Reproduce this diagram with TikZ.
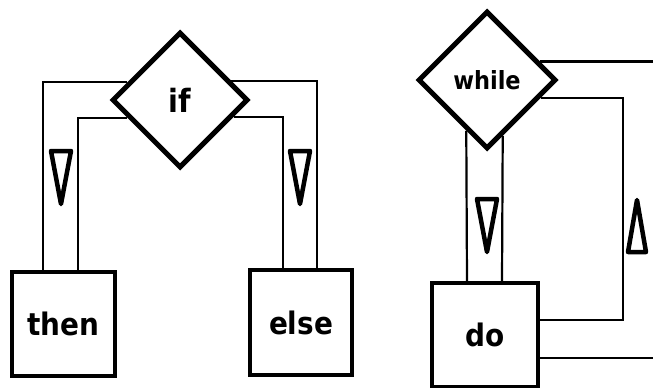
\documentclass[tikz,border=0pt]{standalone}
\usepackage{fontspec}
\newfontfamily\lbl{DejaVu Sans Condensed Bold}
\usetikzlibrary{shapes.geometric,calc}
\begin{document}
\begin{tikzpicture}[x=1pt,y=-1pt,
  dec/.style={draw,diamond,line width=5pt,minimum width=136pt,minimum height=136pt,inner sep=0pt,font=\lbl\fontsize{32}{32}\selectfont},
  box/.style={draw,rectangle,line width=4pt,inner sep=0pt,font=\lbl\fontsize{31}{31}\selectfont},
  chan/.style={line width=2.2pt},
  tri/.style={line width=4.5pt,line join=round}]
\useasboundingbox (0,0) rectangle (653,388);
% left: if-then-else
\node[dec] (if) at (180,100) {if};
\node[box,minimum width=103pt,minimum height=104pt] (then) at (63.5,324) {then};
\node[box,minimum width=102pt,minimum height=105pt] (else) at (301,322.5) {else};
\draw[chan] ($(if.west)!0.25!(if.north)$) -| ([xshift=-20.5pt]then.north);
\draw[chan] ($(if.west)!0.25!(if.south)$) -| ([xshift=14.5pt]then.north);
\draw[chan] ($(if.east)!0.27!(if.north)$) -| ([xshift=16pt]else.north);
\draw[chan] ($(if.east)!0.24!(if.south)$) -| ([xshift=-18pt]else.north);
\draw[tri] (51,151) -- (71,151) -- (61,204) -- cycle;
\draw[tri] (290,151) -- (310,151) -- (300,204) -- cycle;
% right: while-do
\node[dec,font=\lbl\fontsize{25}{25}\selectfont,minimum width=138pt,minimum height=138pt] (while) at (487,80) {while};
\node[box,minimum width=106pt,minimum height=104pt] (do) at (485,335) {do};
\draw[chan] ($(while.south)!0.29!(while.west)$) -- ([xshift=-18pt]do.north);
\draw[chan] ($(while.south)!0.22!(while.east)$) -- ([xshift=17pt]do.north);
\draw[chan] ($(while.east)!0.25!(while.south)$) -| (623,320) -- ([yshift=15pt]do.east);
\draw[chan] ($(while.east)!0.26!(while.north)$) -| (654,358) -- ([yshift=-23pt]do.east);
\draw[tri] (477,199) -- (497,199) -- (487,252) -- cycle;
\draw[tri] (628,252) -- (646,252) -- (637,200) -- cycle;
\end{tikzpicture}
\end{document}
